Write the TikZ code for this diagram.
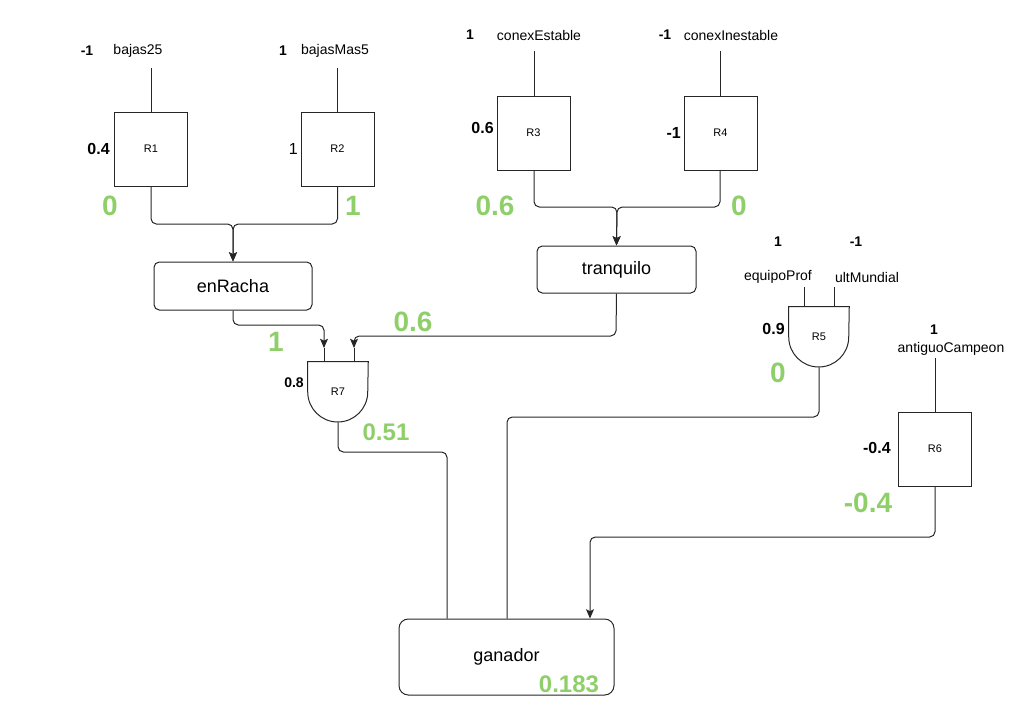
\documentclass[tikz,border=0pt]{standalone}
\usepackage{fontspec}
\setmainfont{Liberation Sans}
\usetikzlibrary{arrows.meta}
\definecolor{valgreen}{HTML}{8FCF6A}
\definecolor{ink}{HTML}{262626}
\tikzset{
  x=0.75pt, y=0.75pt,
  rulebox/.style={draw=ink, line width=0.75pt, minimum width=54.75pt, minimum height=55.5pt, inner sep=0pt, font=\fontsize{8.25}{10}\selectfont},
  varbox/.style={draw=ink, line width=0.75pt, rounded corners=4pt, inner sep=0pt, font=\fontsize{13.5}{16}\selectfont},
  gatebox/.style={minimum width=45pt, minimum height=45pt, inner sep=0pt, font=\fontsize{8.25}{10}\selectfont},
  gateline/.style={draw=ink, line width=0.75pt},
  inname/.style={font=\fontsize{10.5}{12}\selectfont, inner sep=0pt},
  inweight/.style={font=\bfseries\fontsize{10.5}{12}\selectfont, inner sep=0pt},
  ruleweight/.style={font=\bfseries\fontsize{12}{14}\selectfont, inner sep=0pt, anchor=east},
  outval/.style={font=\bfseries\fontsize{21}{24}\selectfont, text=valgreen, inner sep=0pt},
  outvalsmall/.style={font=\bfseries\fontsize{18}{20}\selectfont, text=valgreen, inner sep=0pt},
  wire/.style={draw=ink, line width=0.75pt, rounded corners=4pt},
  arrowwire/.style={wire, -{Stealth[length=7pt,width=6pt,inset=1.5pt]}},
}
\begin{document}
\begin{tikzpicture}
\useasboundingbox (0,0) rectangle (1022,-715);

% ---- rule boxes ----
\node[rulebox] (r1) at (151,-149) {R1};
\node[rulebox] (r2) at (337.5,-149) {R2};
\node[rulebox] (r3) at (533.5,-133) {R3};
\node[rulebox] (r4) at (720.5,-133) {R4};
\node[rulebox] (r6) at (935,-449) {R6};

% ---- variable boxes ----
\node[varbox, minimum width=118.5pt, minimum height=36pt] (enracha) at (233,-286) {enRacha};
\node[varbox, minimum width=119.25pt, minimum height=35.25pt] (tranquilo) at (616.5,-269.5) {tranquilo};
\node[varbox, minimum width=161.25pt, minimum height=57pt, rounded corners=7pt] (ganador) at (506.5,-657) {ganador};

% ---- AND gates ----
\node[gatebox] (r7) at (338,-392) {R7};
\node[gatebox] (r5) at (819,-337) {R5};
\foreach \g in {r7,r5}{
  \draw[gateline] (\g.north west) -- (\g.west)
    arc[start angle=180, end angle=360, radius=22.5pt] -- (\g.north east) -- cycle;
}

% ---- inputs of R1..R4 ----
\coordinate (i1) at (151,-68);
\coordinate (i2) at (337,-68);
\coordinate (i3) at (534,-51);
\coordinate (i4) at (720,-51);
\foreach \i/\r in {i1/r1,i2/r2,i3/r3,i4/r4}{
  \draw[wire] (\i) -- (\i |- \r.north);
}
\node[inweight] (w1) at (87,-51) {-1};
\node[inname] (n1) at (138,-51) {bajas25};
\node[inweight] (w2) at (283,-51) {1};
\node[inname] (n2) at (335,-51) {bajasMas5};
\node[inweight] (w3) at (470,-35) {1};
\node[inname] (n3) at (539,-35) {conexEstable};
\node[inweight] (w4) at (665,-35) {-1};
\node[inname] (n4) at (731,-35) {conexInestable};

% ---- rule weights ----
\node[ruleweight] (rw1) at (110,-149) {0.4};
\node[ruleweight, font=\fontsize{12}{14}\selectfont] (rw2) at (298,-149) {1};
\node[ruleweight] (rw3) at (494,-128) {0.6};
\node[ruleweight] (rw4) at (681,-133) {-1};
\node[ruleweight, font=\bfseries\fontsize{10.5}{12}\selectfont] (rw7) at (304,-383) {0.8};
\node[ruleweight] (rw5) at (785,-329) {0.9};
\node[ruleweight] (rw6) at (891,-448) {-0.4};

% ---- outputs of R1, R2 into enRacha ----
\coordinate (j12) at (233,-224);
\draw[arrowwire] (r1.south) |- (j12) -- (enracha.north);
\draw[arrowwire] (r2.south) |- (j12) -- (enracha.north);

% ---- outputs of R3, R4 into tranquilo ----
\coordinate (j34) at (617,-207);
\draw[arrowwire] (r3.south -| i3) |- (j34) -- (tranquilo.north);
\draw[arrowwire] (r4.south -| i4) |- (j34) -- (tranquilo.north);

% ---- inputs of R7 ----
\coordinate (r7in1) at (324,-348);
\coordinate (r7in2) at (354,-348);
\coordinate (e1) at (233,-325);
\coordinate (t1) at (616,-336);
\draw[arrowwire] (enracha.south) -- (e1) -| (r7in1);
\draw[arrowwire] (tranquilo.south) -- (t1) -| (r7in2);
\draw[wire] (r7in1) -- (r7in1 |- r7.north);
\draw[wire] (r7in2) -- (r7in2 |- r7.north);

% ---- inputs of R5 ----
\coordinate (r5in1) at (804,-287);
\coordinate (r5in2) at (834,-287);
\draw[wire] (r5in1) -- (r5in1 |- r5.north);
\draw[wire] (r5in2) -- (r5in2 |- r5.north);
\node[inweight] (w5a) at (778,-242) {1};
\node[inweight] (w5b) at (856,-242) {-1};
\node[inname] (n5a) at (778,-277) {equipoProf};
\node[inname] (n5b) at (867,-277) {ultMundial};

% ---- input of R6 ----
\coordinate (i6) at (935,-358);
\draw[wire] (i6) -- (i6 |- r6.north);
\node[inweight] (w6) at (934,-330) {1};
\node[inname] (n6) at (951,-349) {antiguoCampeon};

% ---- connectors into ganador ----
\coordinate (k7) at (447,-452);
\coordinate (k5) at (507,-417);
\coordinate (k6) at (590,-537);
\draw[wire] (r7.south) |- (k7) -- (k7 |- ganador.north);
\draw[wire] (r5.south) |- (k5) -- (k5 |- ganador.north);
\draw[arrowwire] (r6.south) |- (k6) -- (k6 |- ganador.north);

% ---- computed values ----
\node[outval] (v1) at (110,-206) {0};
\node[outval] (v2) at (353,-206) {1};
\node[outval] (v3) at (495,-206) {0.6};
\node[outval] (v4) at (739,-206) {0};
\node[outval] (ve) at (276,-342) {1};
\node[outval] (vt) at (413,-322) {0.6};
\node[outvalsmall] (v7) at (386,-432) {0.51};
\node[outval] (v5) at (778,-373) {0};
\node[outval] (v6) at (868,-503) {-0.4};
\node[outvalsmall] (vg) at (569,-684) {0.183};
\end{tikzpicture}
\end{document}
